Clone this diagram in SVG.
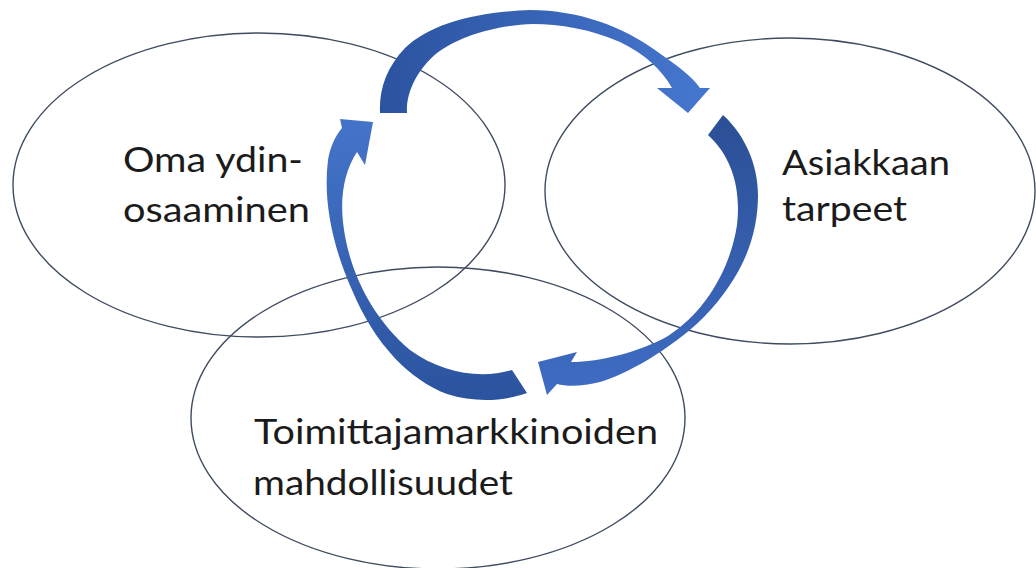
<svg xmlns="http://www.w3.org/2000/svg" width="1036" height="568" viewBox="0 0 1036 568">
  <style>
    .ring { fill: none; stroke: #3f4c60; stroke-width: 1.4; }
    .label { font-family: Lato, "Open Sans", "Liberation Sans", sans-serif; font-size: 34px; fill: #1b1b1b; }
  </style>
  <defs>
    <linearGradient id="gTop" x1="380" y1="0" x2="710" y2="0" gradientUnits="userSpaceOnUse">
      <stop offset="0" stop-color="#2b53a0"/>
      <stop offset="1" stop-color="#4677cf"/>
    </linearGradient>
    <linearGradient id="gRight" x1="0" y1="115" x2="0" y2="395" gradientUnits="userSpaceOnUse">
      <stop offset="0" stop-color="#2b4f95"/>
      <stop offset="1" stop-color="#3f6dc4"/>
    </linearGradient>
    <linearGradient id="gLeft" x1="0" y1="119" x2="0" y2="401" gradientUnits="userSpaceOnUse">
      <stop offset="0" stop-color="#4474ca"/>
      <stop offset="1" stop-color="#2b539e"/>
    </linearGradient>
  </defs>

  <rect width="1036" height="568" fill="#ffffff"/>

  <g id="node-core">
    <ellipse class="ring" cx="259" cy="185" rx="246" ry="152"/>
    <text class="label" x="123" y="172" textLength="180" lengthAdjust="spacingAndGlyphs">Oma ydin-</text>
    <text class="label" x="123" y="222" textLength="187" lengthAdjust="spacingAndGlyphs">osaaminen</text>
  </g>

  <g id="node-customer">
    <ellipse class="ring" cx="790" cy="191" rx="245" ry="153"/>
    <text class="label" x="782" y="175" textLength="168" lengthAdjust="spacingAndGlyphs">Asiakkaan</text>
    <text class="label" x="782" y="221" textLength="125" lengthAdjust="spacingAndGlyphs">tarpeet</text>
  </g>

  <g id="node-suppliers">
    <ellipse class="ring" cx="438" cy="418" rx="247" ry="151"/>
    <text class="label" x="254" y="444" textLength="404" lengthAdjust="spacingAndGlyphs">Toimittajamarkkinoiden</text>
    <text class="label" x="253" y="495" textLength="260" lengthAdjust="spacingAndGlyphs">mahdollisuudet</text>
  </g>

  <g id="connectors">
    <!-- core -> customer, over the top -->
    <path fill="url(#gTop)" d="M380,113 C379,90 386,68 405,48 C430,24 475,12 530,10 C580,10 625,28 655,50 C675,64 692,76 700,88 L710,88 L688,113 L657,88 L672,88 C662,70 645,54 620,42 C590,29 560,24 533,24 C495,25 458,37 437,53 C417,70 406,92 407,113 Z"/>
    <!-- customer -> suppliers, down the right side -->
    <path fill="url(#gRight)" d="M723,115 C745,135 758,165 758,195 C758,240 740,280 703,318 C670,350 625,375 600,382 C585,386 568,387 557,384 L547,395 L538,362 L577,352 L571,362 C600,362 640,352 668,336 C705,312 730,270 737,225 C741,190 733,158 708,135 Z"/>
    <!-- suppliers -> core, up the left side -->
    <path fill="url(#gLeft)" d="M527,393 C505,401 475,403 447,394 C410,380 375,345 352,290 C332,245 323,200 328,160 C330,148 335,136 342,128 L340,119 L373,122 L365,165 L357,152 C345,170 340,195 343,222 C348,270 372,318 410,350 C440,372 480,380 512,370 Z"/>
  </g>
</svg>
